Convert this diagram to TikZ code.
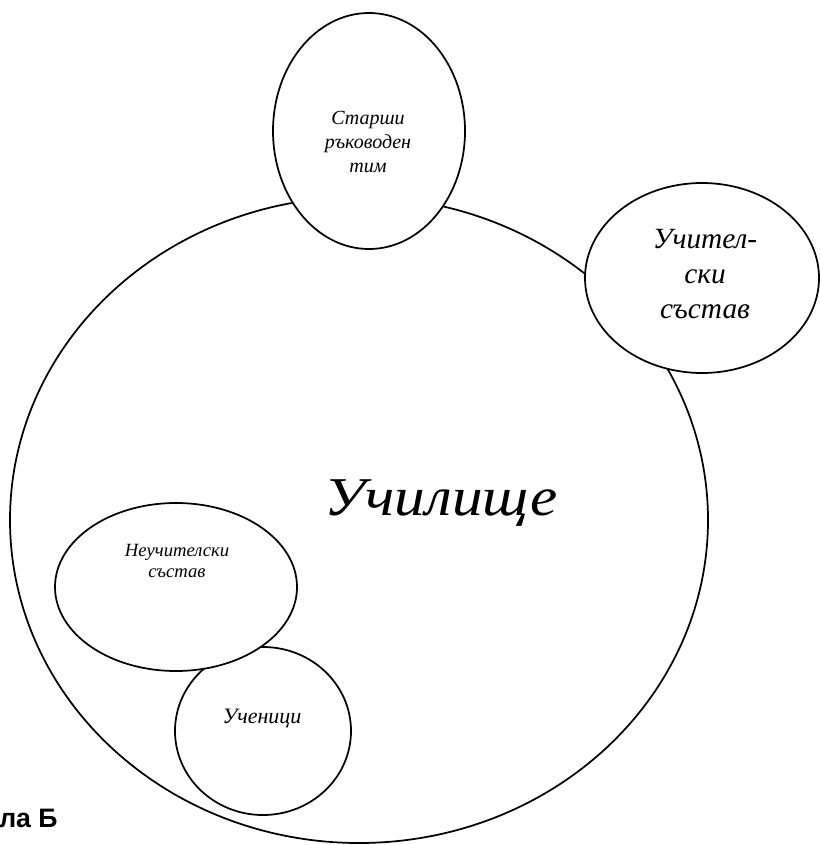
\documentclass[tikz,border=0pt]{standalone}
\usepackage{fontspec}
\setmainfont{Liberation Serif}
\newfontfamily\labelsans{Liberation Sans}
\newfontfamily\widefont[FakeStretch=1.12]{Liberation Serif}
\usetikzlibrary{shapes.geometric}
\begin{document}
\begin{tikzpicture}[x=0.75pt,y=-0.75pt,
  oval/.style={ellipse, draw, line width=1.3pt, fill=white, inner sep=0pt},
  lbl/.style={align=center, inner sep=0pt}]
\useasboundingbox[fill=white] (0,0) rectangle (820,845);
% big school ellipse
\node[oval, minimum width=523.5pt, minimum height=484.5pt] (school) at (359,520) {};
% students
\node[oval, minimum width=132pt, minimum height=126pt] (students) at (263,731) {};
% non-teaching staff
\node[oval, minimum width=181.5pt, minimum height=126pt] (nonteach) at (176,587) {};
% senior team
\node[oval, minimum width=144pt, minimum height=177pt] (senior) at (369,131) {};
% teaching staff
\node[oval, minimum width=175.5pt, minimum height=142.5pt] (teach) at (702,278) {};
% labels
\node[lbl, font=\fontsize{15}{18}\selectfont\itshape] (seniorlbl) at (368,142) {Старши\\ръководен\\тим};
\node[lbl, font=\fontsize{22}{26.5}\selectfont\itshape] (teachlbl) at (705,274) {Учител-\\ски\\състав};
\node[lbl, font=\fontsize{14}{16}\selectfont\itshape] (nonteachlbl) at (177,561) {Неучителски\\състав};
\node[lbl, anchor=base, font=\fontsize{16.5}{19}\selectfont\itshape] (studlbl) at (262,723) {Ученици};
\node[lbl, anchor=base, font=\fontsize{41}{48}\selectfont\widefont\itshape] (schoollbl) at (441,515) {Училище};
\node[lbl, anchor=base west, font=\fontsize{20}{24}\selectfont\labelsans\bfseries] (fig) at (-1,827) {ла Б};
\end{tikzpicture}
\end{document}
